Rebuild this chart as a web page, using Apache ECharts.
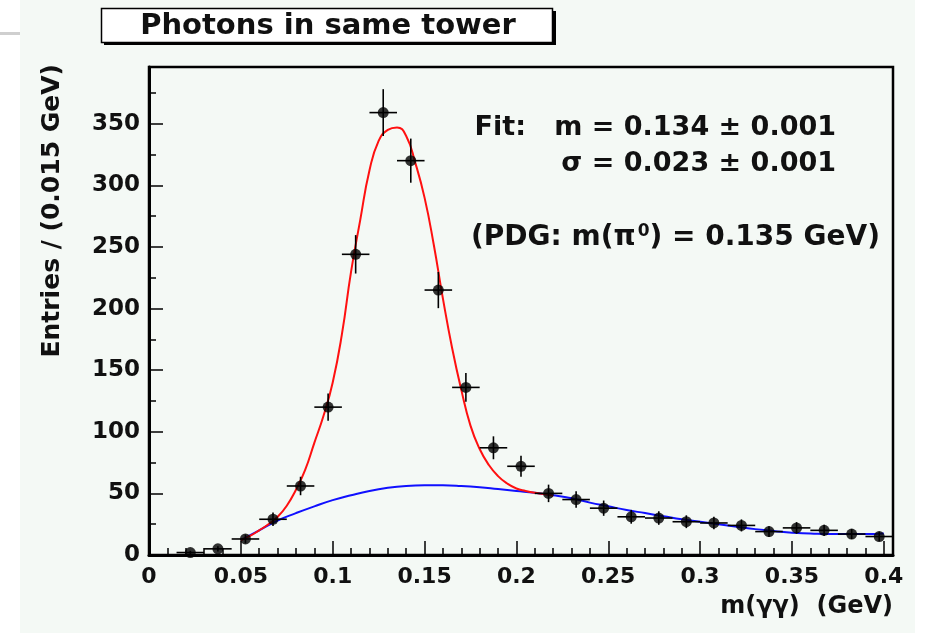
<!DOCTYPE html>
<html>
<head>
<meta charset="utf-8">
<script src="https://cdn.jsdelivr.net/npm/echarts@6/dist/echarts.min.js"></script>
<style>
html,body{margin:0;padding:0;background:#ffffff;}
#chart{width:926px;height:633px;}
</style>
</head>
<body>
<div id="chart"></div>
<script>
// ---- data ----
const binCenters = [0.0225,0.0375,0.0525,0.0675,0.0825,0.0975,0.1125,0.1275,0.1425,0.1575,0.1725,0.1875,0.2025,0.2175,0.2325,0.2475,0.2625,0.2775,0.2925,0.3075,0.3225,0.3375,0.3525,0.3675,0.3825,0.3975];
const entries    = [2,5,13,29,56,120,244,359,320,215,136,87,72,50,45,38,31,30,27,26,24,19,22,20,17,15];
const entryErrs  = [1.4,2.2,3.6,5.4,7.5,11,15.6,19,17.9,14.7,11.7,9.3,8.5,7.1,6.7,6.2,5.6,5.5,5.2,5.1,4.9,4.4,4.7,4.5,4.1,3.9];
const binHalfWidth = 0.0075;

const fitX = [0.05,0.055,0.06,0.065,0.07,0.075,0.08,0.085,0.09,0.095,0.10,0.105,0.11,0.115,0.12,0.125,0.13,0.135,0.14,0.145,0.15,0.155,0.16,0.165,0.17,0.175,0.18,0.185,0.19,0.195,0.20,0.205,0.21,0.215,0.22];
const fitY = [12,15.5,20,25,31,40,53,69,91,113,140,179,230,272,312,336,345,347,340,318,290,252,208,168,134,105,86,73,64,58,54,52,50.5,49.5,48];

const bkgX = [0.05,0.06,0.07,0.08,0.09,0.10,0.11,0.12,0.13,0.14,0.15,0.16,0.17,0.18,0.19,0.20,0.21,0.22,0.23,0.24,0.25,0.26,0.27,0.28,0.29,0.30,0.31,0.32,0.33,0.34,0.35,0.36,0.37,0.38,0.39,0.40];
const bkgY = [12,20,28,34,39.5,44.5,48.5,52,54.5,56,56.5,56.5,56,55,53.5,52,50.5,48.5,46,42.5,39.5,36.5,34,31.5,29,27,25,23,21,19.5,18,17.5,17,17,17,17.5];

const xTickLabels = ['0','0.05','0.1','0.15','0.2','0.25','0.3','0.35','0.4'];
const yTickLabels = ['0','50','100','150','200','250','300','350'];

const titleText = 'Photons in same tower';
const xTitle = 'm(\u03b3\u03b3)  (GeV)';
const yTitle = 'Entries / (0.015 GeV)';
const fitLine1 = 'Fit:   m = 0.134 \u00b1 0.001';
const fitLine2 = '\u03c3 = 0.023 \u00b1 0.001';

// ---- build ----
const points = binCenters.map((x,i)=>[x, entries[i], binHalfWidth, entryErrs[i]]);
const fitData = fitX.map((x,i)=>[x, fitY[i]]);
const bkgData = bkgX.map((x,i)=>[x, bkgY[i]]);

const FONT = '"DejaVu Sans", "Liberation Sans", Arial, sans-serif';
const BG = '#f4f9f5';

const chart = echarts.init(document.getElementById('chart'), null, {renderer:'canvas'});
const xLabelFmt = v => { const s = xTickLabels.find(t => Math.abs(parseFloat(t)-v) < 1e-6); return s === undefined ? '' : s; };
const yLabelFmt = v => { const s = yTickLabels.find(t => Math.abs(parseFloat(t)-v) < 1e-6); return s === undefined ? '' : s; };

chart.setOption({
  backgroundColor: '#ffffff',
  animation: false,
  graphic: [
    {type:'rect', z:-10, shape:{x:20, y:0, width:895, height:633}, style:{fill:BG}},
    {type:'rect', z:-9, shape:{x:0, y:32, width:20, height:3}, style:{fill:'#cfcfcf'}},
    // title box with shadow
    {type:'rect', z:1, shape:{x:104, y:11, width:452, height:34}, style:{fill:'#000'}},
    {type:'rect', z:2, shape:{x:101.5, y:8.5, width:451, height:34}, style:{fill:'#ffffff', stroke:'#000', lineWidth:1.5}},
    {type:'text', z:3, x:328, y:26, style:{text:titleText, font:'bold 29px '+FONT, fill:'#111', textAlign:'center', textVerticalAlign:'middle'}},
    // axis titles
    {type:'text', z:3, x:893, y:607, style:{text:xTitle, font:'bold 24px '+FONT, fill:'#111', textAlign:'right', textVerticalAlign:'middle'}},
    {type:'text', z:3, x:52, y:64, rotation:Math.PI/2, style:{text:yTitle, font:'bold 25px '+FONT, fill:'#111', textAlign:'right', textVerticalAlign:'middle'}},
    // fit annotation
    {type:'text', z:3, x:836, y:128, style:{text:fitLine1, font:'bold 27px '+FONT, fill:'#111', textAlign:'right', textVerticalAlign:'middle'}},
    {type:'text', z:3, x:836, y:164, style:{text:fitLine2, font:'bold 27px '+FONT, fill:'#111', textAlign:'right', textVerticalAlign:'middle'}},
    {type:'text', z:3, x:880, y:238, style:{
      text:'(PDG: m(\u03c0{sup|0}) = 0.135 GeV)', font:'bold 28px '+FONT, fill:'#111', textAlign:'right', textVerticalAlign:'middle',
      rich:{sup:{font:'bold 17px '+FONT, fill:'#111', verticalAlign:'top', padding:[0,0,13,2]}}
    }}
  ],
  grid: {left:149, right:33, top:67, bottom:78, show:true, backgroundColor:'transparent', borderColor:'#000', borderWidth:2.5},
  xAxis: {
    type:'value', min:0, max:0.405, interval:0.05,
    axisLine:{show:true, onZero:false, lineStyle:{color:'#000', width:3}},
    axisTick:{show:true, inside:true, length:14, lineStyle:{color:'#000', width:1.5}},
    minorTick:{show:true, splitNumber:5, length:7, lineStyle:{color:'#000', width:1.5}},
    splitLine:{show:false},
    axisLabel:{formatter:xLabelFmt, showMaxLabel:false, margin:11, color:'#111', fontFamily:FONT, fontWeight:'bold', fontSize:22}
  },
  yAxis: {
    type:'value', min:0, max:396, interval:50,
    axisLine:{show:true, onZero:false, lineStyle:{color:'#000', width:3}},
    axisTick:{show:true, inside:true, length:14, lineStyle:{color:'#000', width:1.5}},
    minorTick:{show:true, splitNumber:2, length:7, lineStyle:{color:'#000', width:1.5}},
    splitLine:{show:false},
    axisLabel:{formatter:yLabelFmt, showMaxLabel:false, margin:9, color:'#111', fontFamily:FONT, fontWeight:'bold', fontSize:23}
  },
  series: [
    {type:'line', name:'background', data:bkgData, smooth:true, showSymbol:false, symbol:'none', z:3,
     lineStyle:{color:'#1010ff', width:2}},
    {type:'line', name:'fit', data:fitData, smooth:true, showSymbol:false, symbol:'none', z:4,
     lineStyle:{color:'#ff1010', width:2}},
    {type:'custom', name:'errors', data:points, z:5,
     renderItem:(params, api)=>{
       const x = api.value(0), y = api.value(1), ex = api.value(2), ey = api.value(3);
       const l = api.coord([x-ex, y]), r = api.coord([x+ex, y]);
       const t = api.coord([x, y+ey]), b = api.coord([x, Math.max(0, y-ey)]);
       const st = {stroke:'#000', lineWidth:1.6};
       return {type:'group', children:[
         {type:'line', shape:{x1:l[0], y1:l[1], x2:r[0], y2:r[1]}, style:st},
         {type:'line', shape:{x1:t[0], y1:t[1], x2:b[0], y2:b[1]}, style:st}
       ]};
     }},
    {type:'scatter', name:'data', data:points.map(p=>[p[0],p[1]]), symbol:'circle', symbolSize:11, z:6,
     itemStyle:{color:'#000'}}
  ]
});
</script>
</body>
</html>
